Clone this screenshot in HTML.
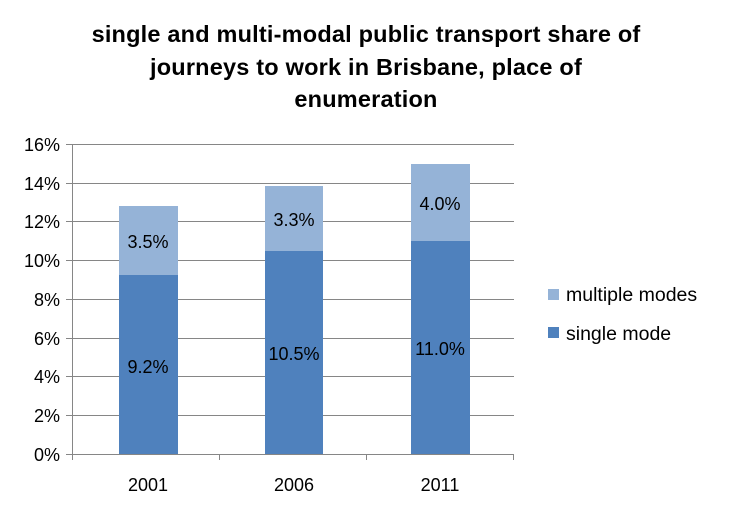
<!DOCTYPE html>
<html><head><meta charset="utf-8"><style>
body{margin:0;background:#fff;}
svg text{font-family:"Liberation Sans",sans-serif;}
</style></head><body>
<svg width="732" height="510" viewBox="0 0 732 510" xmlns="http://www.w3.org/2000/svg">
<rect width="732" height="510" fill="#fff"/>
<g font-weight="bold" font-size="23.5" text-anchor="middle" fill="#000" letter-spacing="0.2">
<text x="366" y="42">single and multi-modal public transport share of</text>
<text x="366" y="75">journeys to work in Brisbane, place of</text>
<text x="366" y="107">enumeration</text>
</g>
<g stroke="#868686" stroke-width="1">
<line x1="72" y1="144.5" x2="514" y2="144.5"/>
<line x1="72" y1="183.5" x2="514" y2="183.5"/>
<line x1="72" y1="221.5" x2="514" y2="221.5"/>
<line x1="72" y1="260.5" x2="514" y2="260.5"/>
<line x1="72" y1="299.5" x2="514" y2="299.5"/>
<line x1="72" y1="338.5" x2="514" y2="338.5"/>
<line x1="72" y1="376.5" x2="514" y2="376.5"/>
<line x1="72" y1="415.5" x2="514" y2="415.5"/>
<line x1="72" y1="454.5" x2="514" y2="454.5"/>
<line x1="72.5" y1="144" x2="72.5" y2="460"/>
<line x1="66" y1="144.5" x2="72" y2="144.5"/>
<line x1="66" y1="183.5" x2="72" y2="183.5"/>
<line x1="66" y1="221.5" x2="72" y2="221.5"/>
<line x1="66" y1="260.5" x2="72" y2="260.5"/>
<line x1="66" y1="299.5" x2="72" y2="299.5"/>
<line x1="66" y1="338.5" x2="72" y2="338.5"/>
<line x1="66" y1="376.5" x2="72" y2="376.5"/>
<line x1="66" y1="415.5" x2="72" y2="415.5"/>
<line x1="66" y1="454.5" x2="72" y2="454.5"/>
<line x1="219.5" y1="454" x2="219.5" y2="460"/>
<line x1="366.5" y1="454" x2="366.5" y2="460"/>
<line x1="513.5" y1="454" x2="513.5" y2="460"/>
</g>
<g font-size="18" text-anchor="end" fill="#000">
<text x="60" y="151">16%</text><text x="60" y="190">14%</text><text x="60" y="228">12%</text>
<text x="60" y="267">10%</text><text x="60" y="306">8%</text><text x="60" y="345">6%</text>
<text x="60" y="383">4%</text><text x="60" y="422">2%</text><text x="60" y="461">0%</text>
</g>
<g fill="#4f81bd">
<rect x="119" y="275" width="59" height="179"/>
<rect x="265" y="251" width="58" height="203"/>
<rect x="411" y="241" width="59" height="213"/>
</g>
<g fill="#95b3d7">
<rect x="119" y="206" width="59" height="69"/>
<rect x="265" y="186" width="58" height="65"/>
<rect x="411" y="164" width="59" height="77"/>
</g>
<g font-size="18" text-anchor="middle" fill="#000">
<text x="148" y="373">9.2%</text><text x="294" y="360">10.5%</text><text x="440" y="355">11.0%</text>
<text x="148" y="248">3.5%</text><text x="294" y="226">3.3%</text><text x="440" y="210">4.0%</text>
<text x="148" y="491">2001</text><text x="294" y="491">2006</text><text x="440" y="491">2011</text>
</g>
<rect x="548" y="289" width="11" height="11" fill="#95b3d7"/>
<rect x="548" y="327" width="11" height="11" fill="#4f81bd"/>
<g font-size="19.5" fill="#000">
<text x="566" y="301">multiple modes</text>
<text x="566" y="340">single mode</text>
</g>
</svg>
</body></html>
